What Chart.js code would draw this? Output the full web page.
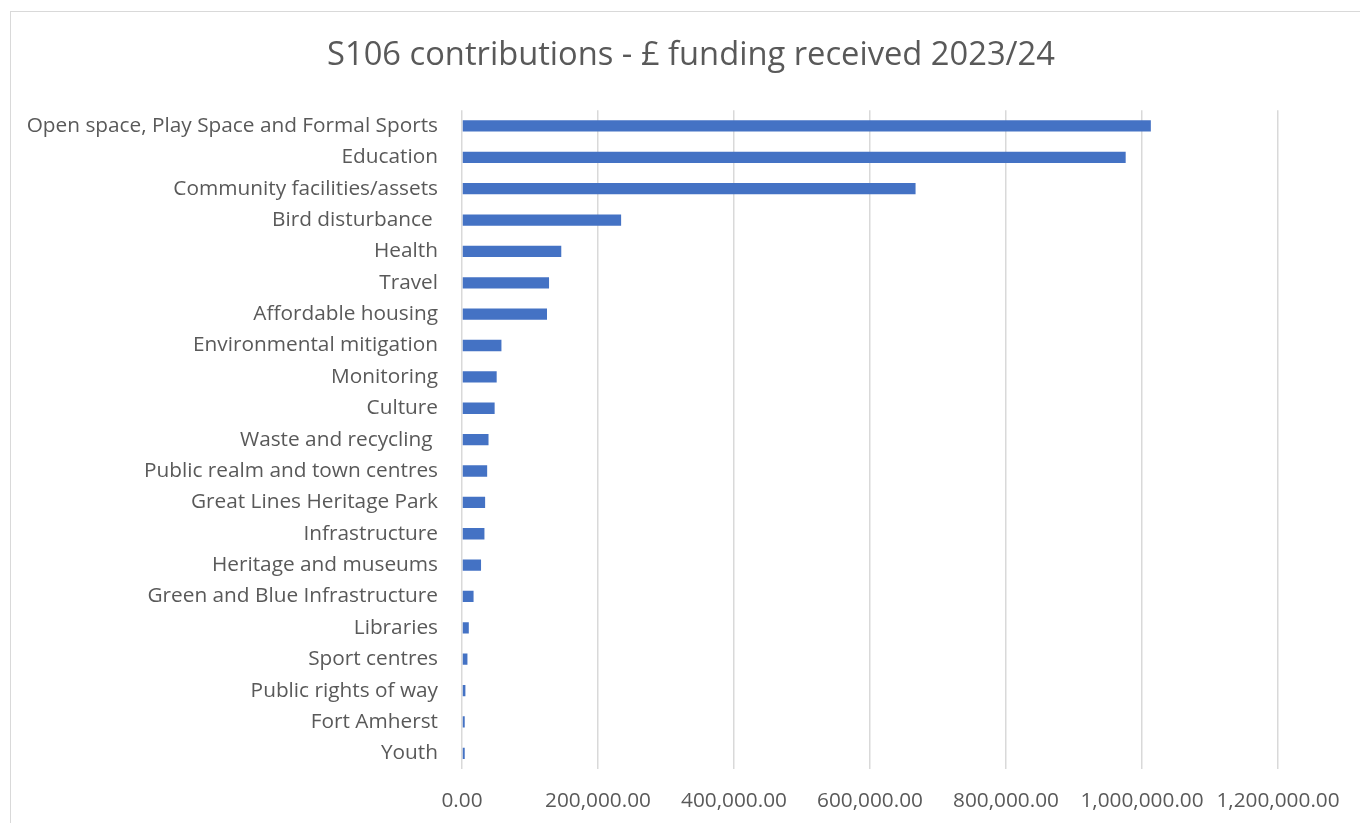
<!DOCTYPE html>
<html>
<head>
<meta charset="utf-8">
<script src="https://cdn.jsdelivr.net/npm/chart.js@4.4.1/dist/chart.umd.min.js"></script>
<style>
  html, body { margin: 0; padding: 0; background: #fff; }
  #frame { position: absolute; left: 10px; top: 11px; width: 1400px; height: 900px; border: 1px solid #d9d9d9; }
  #wrap { position: absolute; left: 0; top: 0; width: 1360px; height: 823px; }
</style>
</head>
<body>
<div id="frame"></div>
<div id="wrap"><canvas id="chart"></canvas></div>
<script>
const categories = [
  "Open space, Play Space and Formal Sports",
  "Education",
  "Community facilities/assets",
  "Bird disturbance ",
  "Health",
  "Travel",
  "Affordable housing",
  "Environmental mitigation",
  "Monitoring",
  "Culture",
  "Waste and recycling ",
  "Public realm and town centres",
  "Great Lines Heritage Park",
  "Infrastructure",
  "Heritage and museums",
  "Green and Blue Infrastructure",
  "Libraries",
  "Sport centres",
  "Public rights of way",
  "Fort Amherst",
  "Youth"
];
const funding = [1013000, 976000, 667000, 234000, 146000, 128000, 125000, 58000, 51000, 48000, 39000, 37000, 34000, 33000, 28000, 17000, 10000, 8000, 5000, 4000, 4000];
const xTicks = [0, 200000, 400000, 600000, 800000, 1000000, 1200000];

const textColor = "#595959";
const fontFamily = "'Open Sans', sans-serif";

function money(v) {
  return Number(v).toLocaleString("en-US", { minimumFractionDigits: 2, maximumFractionDigits: 2 });
}

const ctx = document.getElementById("chart").getContext("2d");
new Chart(ctx, {
  type: "bar",
  data: {
    labels: categories,
    datasets: [{
      label: "£ funding received",
      data: funding,
      backgroundColor: "#4472C4",
      barPercentage: 0.36,
      categoryPercentage: 1
    }]
  },
  options: {
    indexAxis: "y",
    responsive: true,
    maintainAspectRatio: false,
    animation: false,
    layout: { padding: { left: 22, right: 0, top: 0, bottom: 0 } },
    plugins: {
      legend: { display: false },
      tooltip: { enabled: false },
      title: {
        display: true,
        text: "S106 contributions - £ funding received 2023/24",
        color: textColor,
        font: { family: fontFamily, size: 32.7, weight: "normal" },
        padding: { top: 36, bottom: 35 }
      }
    },
    scales: {
      x: {
        min: 0,
        max: 1200000,
        afterBuildTicks: s => { s.ticks = xTicks.map(v => ({ value: v })); },
        afterFit: s => { s.height = 54; },
        border: { display: false },
        grid: { color: "#d9d9d9", lineWidth: 1.5, drawTicks: false },
        ticks: {
          color: textColor,
          font: { family: fontFamily, size: 20.8 },
          padding: 20,
          maxRotation: 0,
          callback: v => money(v)
        }
      },
      y: {
        afterFit: s => { s.width = 440; },
        border: { display: false },
        grid: { display: false, drawTicks: false },
        ticks: {
          color: textColor,
          font: { family: fontFamily, size: 20.8 },
          padding: 24,
          autoSkip: false
        }
      },
      yRight: {
        type: "category",
        position: "right",
        afterFit: s => { s.width = 82; },
        border: { display: false },
        grid: { display: false, drawTicks: false },
        ticks: { display: false }
      }
    }
  }
});
</script>
</body>
</html>
